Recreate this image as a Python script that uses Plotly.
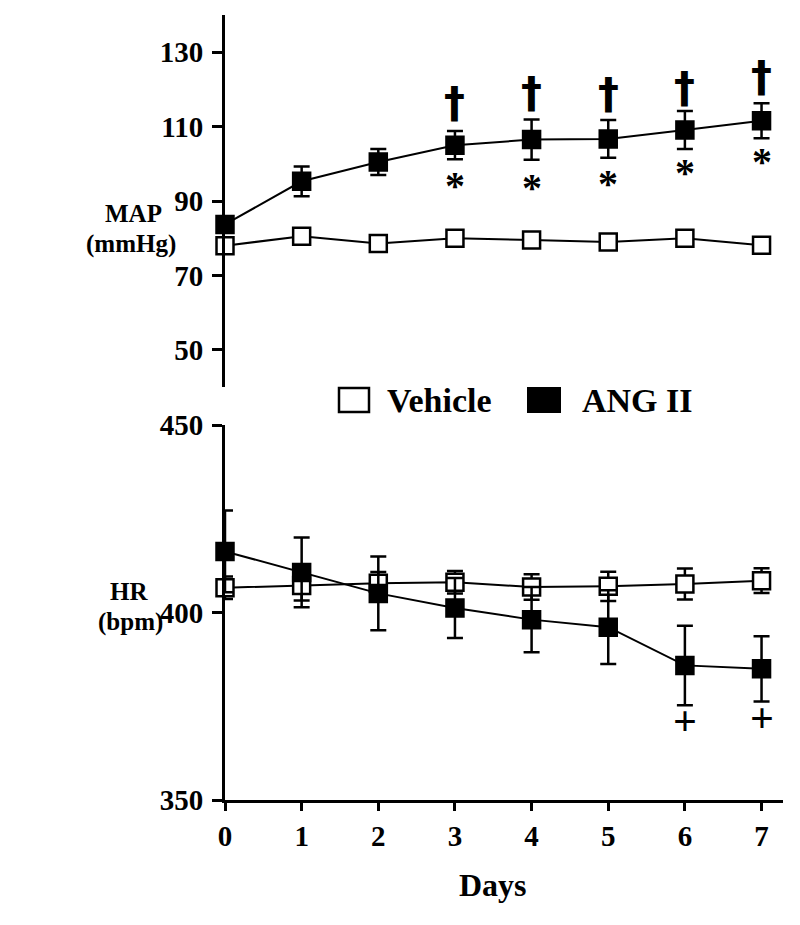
import plotly.graph_objects as go

# ---------------- data ----------------
days = [0, 1, 2, 3, 4, 5, 6, 7]
day_ticks = ["0", "1", "2", "3", "4", "5", "6", "7"]

map_vehicle = [78.0, 80.5, 78.6, 80.0, 79.5, 79.0, 80.0, 78.1]
map_vehicle_sem = [1.5, 1.5, 1.2, 1.5, 1.3, 1.3, 1.5, 1.3]
map_ang = [83.7, 95.3, 100.5, 105.0, 106.5, 106.7, 109.1, 111.6]
map_ang_sem = [1.5, 4.0, 3.5, 3.8, 5.4, 5.1, 5.1, 4.7]

hr_vehicle = [406.6, 407.2, 407.8, 408.1, 406.8, 407.0, 407.6, 408.5]
hr_vehicle_sem = [3.0, 4.0, 3.0, 3.0, 3.4, 3.9, 4.1, 3.3]
hr_ang = [416.3, 410.7, 405.1, 401.2, 398.1, 396.1, 385.9, 385.0]
hr_ang_sem = [10.9, 9.3, 9.8, 8.0, 8.7, 9.8, 10.6, 8.7]

map_ticks = [50, 70, 90, 110, 130]
hr_ticks = [350, 400, 450]

# significance marks (glyph centres)
dagger_days = [3, 4, 5, 6, 7]
dagger_y = [116.6, 119.3, 119.0, 120.6, 123.6]
star_days = [3, 4, 5, 6, 7]
star_y = [95.5, 95.0, 96.0, 99.0, 101.9]
plus_days = [6, 7]
plus_y = [370.5, 371.4]

FONT = "Liberation Serif"

fig = go.Figure()


def add_series(x, y, err, filled, xa, ya, name):
    fig.add_trace(go.Scatter(
        x=x, y=y, xaxis=xa, yaxis=ya, name=name, mode="lines+markers",
        line=dict(color="black", width=2),
        marker=dict(symbol="square", size=17,
                    color="black" if filled else "white",
                    line=dict(color="black", width=2.5)),
        error_y=dict(type="data", array=err, visible=True, color="black",
                     thickness=2.5, width=8),
        cliponaxis=False, showlegend=False,
    ))


add_series(days, map_vehicle, map_vehicle_sem, False, "x", "y", "Vehicle")
add_series(days, map_ang, map_ang_sem, True, "x", "y", "ANG II")
add_series(days, hr_vehicle, hr_vehicle_sem, False, "x2", "y2", "Vehicle")
add_series(days, hr_ang, hr_ang_sem, True, "x2", "y2", "ANG II")

annotations = []
for d, v in zip(dagger_days, dagger_y):
    annotations.append(dict(x=d, y=v, xref="x", yref="y", text="†", showarrow=False,
                            font=dict(family="DejaVu Sans", size=42, color="black", weight="bold"),
                            xanchor="center", yanchor="middle"))
for d, v in zip(star_days, star_y):
    annotations.append(dict(x=d, y=v, xref="x", yref="y", text="*", showarrow=False,
                            font=dict(family=FONT, size=40, color="black", weight="bold"),
                            xanchor="center", yanchor="middle", yshift=-5))
for d, v in zip(plus_days, plus_y):
    annotations.append(dict(x=d, y=v, xref="x2", yref="y2", text="+", showarrow=False,
                            font=dict(family=FONT, size=42, color="black", weight="bold"),
                            xanchor="center", yanchor="middle", yshift=2))

# The page body has an 8 px margin; the figure is sized to fit the 800x925 window.
OFF = 8
W, H = 800 - OFF, 925 - OFF
L, R, T, B = 217, 17, 7, 125
pw, ph = W - L - R, H - T - B


def px(xs):
    return (xs - OFF - L) / pw


def py(ys):
    return (H - B - (ys - OFF)) / ph


label_font = dict(family=FONT, size=25, color="black", weight="bold")
for txt, xc, yc in [("MAP", 133, 213), ("(mmHg)", 131, 244),
                    ("HR", 129, 591), ("(bpm)", 130, 622)]:
    annotations.append(dict(x=px(xc), y=py(yc), xref="paper", yref="paper", text=txt,
                            showarrow=False, font=label_font,
                            xanchor="center", yanchor="middle"))

annotations.append(dict(x=px(493), y=py(885), xref="paper", yref="paper", text="Days",
                        showarrow=False, font=dict(family=FONT, size=32, color="black", weight="bold"),
                        xanchor="center", yanchor="middle"))

# legend (custom)
legend_font = dict(family=FONT, size=34, color="black", weight="bold")
annotations.append(dict(x=px(385), y=py(400), xref="paper", yref="paper", text="Vehicle",
                        showarrow=False, font=legend_font, xanchor="left", yanchor="middle"))
annotations.append(dict(x=px(580), y=py(400), xref="paper", yref="paper", text="ANG II",
                        showarrow=False, font=legend_font, xanchor="left", yanchor="middle"))
shapes = [
    dict(type="rect", xref="paper", yref="paper", x0=px(339), x1=px(369), y0=py(412), y1=py(388),
         line=dict(color="black", width=2.5), fillcolor="white"),
    dict(type="rect", xref="paper", yref="paper", x0=px(528), x1=px(560), y0=py(412), y1=py(388),
         line=dict(color="black", width=2), fillcolor="black"),
]

tick_font = dict(family=FONT, size=29, color="black", weight="bold")
xrange = [0, 7.28]
top_dom = [py(387), 1.0]
bot_dom = [0.0, py(425)]

fig.update_layout(
    width=W, height=H,
    margin=dict(l=L, r=R, t=T, b=B, autoexpand=False),
    paper_bgcolor="white", plot_bgcolor="white",
    showlegend=False,
    xaxis=dict(domain=[0, 1], range=xrange, anchor="y", visible=False),
    yaxis=dict(domain=top_dom, range=[40, 140], anchor="x",
               tickvals=map_ticks, ticktext=[str(t) for t in map_ticks],
               ticks="outside", ticklen=10, tickwidth=2.5, tickcolor="black",
               showline=True, linewidth=3, linecolor="black",
               showgrid=False, zeroline=False, tickfont=tick_font, ticklabelstandoff=3,
               automargin=False),
    xaxis2=dict(domain=[0, 1], range=xrange, anchor="y2",
                tickvals=days, ticktext=day_ticks,
                ticks="outside", ticklen=8, tickwidth=2.5, tickcolor="black",
                showline=True, linewidth=3, linecolor="black",
                showgrid=False, zeroline=False, tickfont=tick_font, ticklabelstandoff=0,
                automargin=False),
    yaxis2=dict(domain=bot_dom, range=[350, 450], anchor="x2",
                tickvals=hr_ticks, ticktext=[str(t) for t in hr_ticks],
                ticks="outside", ticklen=10, tickwidth=2.5, tickcolor="black",
                showline=True, linewidth=3, linecolor="black",
                showgrid=False, zeroline=False, tickfont=tick_font, ticklabelstandoff=3,
                automargin=False),
    annotations=annotations,
    shapes=shapes,
)

fig.write_html("out.html")
